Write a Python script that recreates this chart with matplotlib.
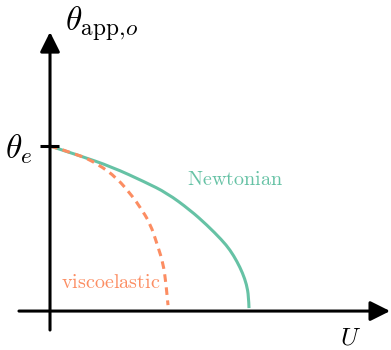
import matplotlib
matplotlib.use("Agg")
import matplotlib.pyplot as plt
from matplotlib.path import Path
from matplotlib.patches import PathPatch

plt.rcParams['mathtext.fontset'] = 'cm'

# Data (arbitrary units: theta normalised by theta_e, U normalised by Newtonian max)
newt_U = [0.0, 0.141, 0.312, 0.477, 0.588, 0.704, 0.789, 0.864, 0.905, 0.940, 0.968, 0.988, 0.998, 1.0]
newt_theta = [1.0, 0.945, 0.873, 0.782, 0.715, 0.612, 0.521, 0.430, 0.370, 0.300, 0.230, 0.160, 0.090, 0.018]
visc_U = [0.0, 0.136, 0.241, 0.337, 0.417, 0.452, 0.503, 0.543, 0.568, 0.583, 0.593]
visc_theta = [1.0, 0.952, 0.891, 0.806, 0.691, 0.630, 0.533, 0.388, 0.291, 0.170, 0.036]
theta_e = 1.0

green = '#66c2a5'
orange = '#fc8d62'


def smooth_path(xs, ys):
    # quadratic Bezier through midpoints, using the read points as control points
    pts = list(zip(xs, ys))
    verts = [pts[0]]
    codes = [Path.MOVETO]
    for i in range(1, len(pts) - 1):
        mid = ((pts[i][0] + pts[i + 1][0]) / 2, (pts[i][1] + pts[i + 1][1]) / 2)
        if i == len(pts) - 2:
            mid = pts[-1]
        verts += [pts[i], mid]
        codes += [Path.CURVE3, Path.CURVE3]
    return Path(verts, codes)


fig = plt.figure(figsize=(3.91, 3.5), dpi=100)
ax = fig.add_axes([0, 0, 1, 1])
ax.set_xlim(-0.2513, 1.7136)
ax.set_ylim(-0.236, 1.885)
ax.axis('off')

arrow = dict(arrowstyle='-|>,head_length=0.6,head_width=0.3', lw=2.2, color='k',
             mutation_scale=20, shrinkA=0, shrinkB=0)
ax.annotate('', xy=(1.709, 0), xytext=(-0.156, 0), arrowprops=arrow)
ax.annotate('', xy=(0, 1.691), xytext=(0, -0.115), arrowprops=arrow)

# theta_e tick
ax.plot([-0.05, 0.045], [theta_e, theta_e], color='k', lw=2.2, solid_capstyle='butt')

ax.add_patch(PathPatch(smooth_path(newt_U, newt_theta), fill=False, edgecolor=green, lw=2.2,
                       label='Newtonian'))
ax.add_patch(PathPatch(smooth_path(visc_U, visc_theta), fill=False, edgecolor=orange, lw=2.2,
                       linestyle=(0, (2.5, 1.8)), label='viscoelastic'))

ax.text(0.688, 0.764, r'$\mathrm{Newtonian}$', color=green, fontsize=14.5, va='baseline', ha='left')
ax.text(0.055, 0.139, r'$\mathrm{viscoelastic}$', color=orange, fontsize=14.5, va='baseline', ha='left')
ax.text(-0.085, 0.927, r'$\theta_e$', fontsize=24, va='baseline', ha='right')
ax.text(0.075, 1.703, r'$\theta_{\mathrm{app},\!o}$', fontsize=24, va='baseline', ha='left')
ax.text(1.508, -0.161, r'$U$', fontsize=18, va='center', ha='center')

fig.savefig('out.png', dpi=100)
